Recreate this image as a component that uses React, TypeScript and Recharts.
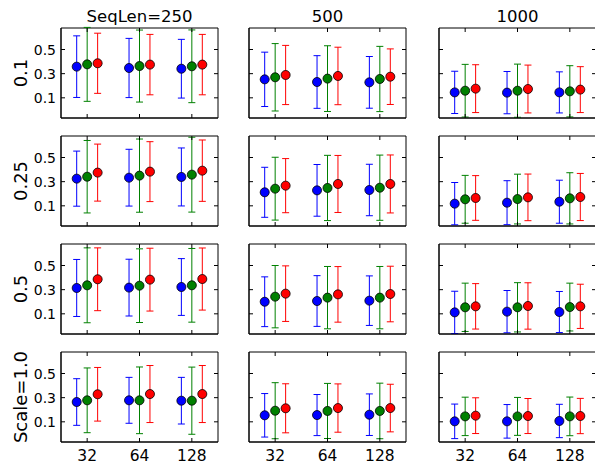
import React from 'react';
import { ScatterChart, Scatter, XAxis, YAxis, ErrorBar, ReferenceArea } from 'recharts';

const groups = ['32', '64', '128'];
const colTitles = ['SeqLen=250', '500', '1000'];
const rowTitles = ['0.1', '0.25', '0.5', 'Scale=1.0'];
const yTicks = [0.1, 0.3, 0.5];

// values are [row][col][group]
const blueMean = [
  [[0.358, 0.347, 0.341], [0.253, 0.231, 0.228], [0.145, 0.143, 0.145]],
  [[0.325, 0.333, 0.339], [0.212, 0.228, 0.231], [0.118, 0.126, 0.134]],
  [[0.314, 0.317, 0.322], [0.2, 0.206, 0.209], [0.112, 0.118, 0.115]],
  [[0.264, 0.278, 0.275], [0.154, 0.156, 0.159], [0.104, 0.104, 0.107]],
];
const blueErr = [
  [[0.255, 0.245, 0.243], [0.225, 0.218, 0.214], [0.175, 0.175, 0.17]],
  [[0.228, 0.235, 0.24], [0.207, 0.214, 0.213], [0.175, 0.182, 0.178]],
  [[0.236, 0.235, 0.235], [0.206, 0.21, 0.205], [0.175, 0.175, 0.17]],
  [[0.193, 0.19, 0.193], [0.18, 0.17, 0.172], [0.143, 0.139, 0.138]],
];
const greenMean = [
  [[0.377, 0.363, 0.361], [0.27, 0.259, 0.256], [0.159, 0.159, 0.154]],
  [[0.341, 0.35, 0.358], [0.242, 0.248, 0.25], [0.154, 0.156, 0.162]],
  [[0.336, 0.333, 0.336], [0.242, 0.234, 0.234], [0.154, 0.154, 0.156]],
  [[0.278, 0.278, 0.275], [0.192, 0.19, 0.19], [0.145, 0.145, 0.145]],
];
const greenErr = [
  [[0.306, 0.298, 0.301], [0.279, 0.272, 0.27], [0.218, 0.22, 0.212]],
  [[0.3, 0.303, 0.31], [0.26, 0.27, 0.27], [0.198, 0.206, 0.212]],
  [[0.31, 0.305, 0.305], [0.258, 0.258, 0.258], [0.2, 0.204, 0.198]],
  [[0.268, 0.276, 0.278], [0.232, 0.228, 0.23], [0.159, 0.157, 0.16]],
];
const redMean = [
  [[0.386, 0.375, 0.375], [0.289, 0.281, 0.275], [0.176, 0.173, 0.168]],
  [[0.375, 0.383, 0.391], [0.267, 0.281, 0.281], [0.165, 0.17, 0.173]],
  [[0.386, 0.383, 0.388], [0.267, 0.261, 0.264], [0.162, 0.165, 0.162]],
  [[0.328, 0.33, 0.33], [0.212, 0.214, 0.214], [0.151, 0.148, 0.148]],
];
const redErr = [
  [[0.249, 0.25, 0.25], [0.245, 0.238, 0.23], [0.198, 0.198, 0.19]],
  [[0.236, 0.248, 0.254], [0.224, 0.236, 0.24], [0.185, 0.193, 0.195]],
  [[0.26, 0.26, 0.257], [0.23, 0.23, 0.23], [0.188, 0.192, 0.183]],
  [[0.222, 0.236, 0.236], [0.203, 0.2, 0.197], [0.148, 0.145, 0.146]],
];

const series = [
  { color: '#0000ff', mean: blueMean, err: blueErr, dx: -0.2 },
  { color: '#008000', mean: greenMean, err: greenErr, dx: 0 },
  { color: '#ff0000', mean: redMean, err: redErr, dx: 0.2 },
];

const PLOT_W = 157;
const PLOT_H = 90;
const AXIS_W = 50;
const TOP = 5;
const RIGHT = 5;
const BOTTOM = 30;
const TICK = 4;
const plotLefts = [61, 249, 439];
const plotTops = [28, 136, 244, 352];
const yDomain = [-0.067, 0.678];
const xDomain = [-0.5, 2.5];
const frame = { stroke: '#000', strokeWidth: 1 };

// tick marks point inward on both sides, like matplotlib
const YTick = (showLabel: boolean) => (props: any) => {
  const { y, payload } = props;
  return (
    <g>
      <line x1={AXIS_W} x2={AXIS_W + TICK} y1={y} y2={y} stroke="#000" />
      <line x1={AXIS_W + PLOT_W - TICK} x2={AXIS_W + PLOT_W} y1={y} y2={y} stroke="#000" />
      {showLabel && (
        <text x={AXIS_W - 5} y={y} dy="0.36em" textAnchor="end" fontSize={14} fill="#000">
          {payload.value}
        </text>
      )}
    </g>
  );
};

const XTick = (showLabel: boolean) => (props: any) => {
  const { x, payload } = props;
  const base = TOP + PLOT_H;
  return (
    <g>
      <line x1={x} x2={x} y1={base - TICK} y2={base} stroke="#000" />
      <line x1={x} x2={x} y1={TOP} y2={TOP + TICK} stroke="#000" />
      {showLabel && (
        <text x={x} y={base + 18.5} textAnchor="middle" fontSize={15.5} fill="#000">
          {groups[payload.value]}
        </text>
      )}
    </g>
  );
};

const Panel = ({ r, c }: { r: number; c: number }) => {
  const showX = r === 3;
  const showY = c === 0;
  return (
    <div style={{ position: 'absolute', left: plotLefts[c] - AXIS_W, top: plotTops[r] - TOP }}>
      <ScatterChart
        width={AXIS_W + PLOT_W + RIGHT}
        height={TOP + PLOT_H + BOTTOM}
        margin={{ top: TOP, right: RIGHT, bottom: 0, left: 0 }}
      >
        <XAxis
          type="number"
          dataKey="x"
          domain={xDomain}
          ticks={[0, 1, 2]}
          interval={0}
          height={BOTTOM}
          tickSize={0}
          tickMargin={4}
          axisLine={frame}
          tickLine={false}
          tick={XTick(showX)}
          allowDataOverflow
        />
        <YAxis
          type="number"
          dataKey="y"
          domain={yDomain}
          ticks={yTicks}
          interval={0}
          width={AXIS_W}
          tickSize={0}
          tickMargin={4}
          axisLine={frame}
          tickLine={false}
          tick={YTick(showY)}
          allowDataOverflow
        />
        <ReferenceArea
          x1={xDomain[0]}
          x2={xDomain[1]}
          y1={yDomain[0]}
          y2={yDomain[1]}
          fill="none"
          fillOpacity={0}
          stroke="#000"
          strokeWidth={1}
        />
        {series.map((s, k) => (
          <Scatter
            key={k}
            data={groups.map((_, i) => ({ x: i + s.dx, y: s.mean[r][c][i], e: s.err[r][c][i] }))}
            fill={s.color}
            stroke="#000"
            strokeWidth={0.8}
            isAnimationActive={false}
          >
            <ErrorBar dataKey="e" direction="y" width={3.5} stroke={s.color} strokeWidth={1} />
          </Scatter>
        ))}
      </ScatterChart>
    </div>
  );
};

export default function App() {
  return (
    <div
      style={{
        position: 'absolute',
        left: 0,
        top: 0,
        width: 595,
        height: 463,
        overflow: 'hidden',
        background: '#fff',
        fontFamily: 'DejaVu Sans',
      }}
    >
      {rowTitles.map((_, r) => colTitles.map((__, c) => <Panel key={`${r}-${c}`} r={r} c={c} />))}
      <svg width={595} height={463} style={{ position: 'absolute', left: 0, top: 0, pointerEvents: 'none' }}>
        {colTitles.map((t, c) => (
          <text key={t} x={plotLefts[c] + PLOT_W / 2} y={21.5} textAnchor="middle" fontSize={16.5} fill="#000">
            {t}
          </text>
        ))}
        {rowTitles.map((t, r) => {
          const cy = plotTops[r] + PLOT_H / 2;
          return (
            <text key={t} x={27} y={cy} textAnchor="middle" fontSize={18} fill="#000" transform={`rotate(-90, 27, ${cy})`}>
              {t}
            </text>
          );
        })}
      </svg>
    </div>
  );
}
